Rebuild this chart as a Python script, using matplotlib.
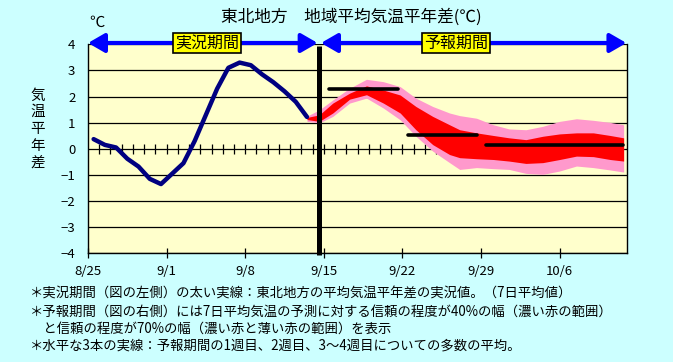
import matplotlib
matplotlib.use("Agg")
import matplotlib.pyplot as plt
from matplotlib.patches import FancyArrowPatch
import numpy as np

plt.rcParams['font.family'] = ['Noto Sans CJK JP', 'DejaVu Sans']

# ---- data ----
x_tick_days = [0, 7, 14, 21, 28, 35, 42]
x_tick_labels = ["8/25", "9/1", "9/8", "9/15", "9/22", "9/29", "10/6"]
y_ticks = [-4, -3, -2, -1, 0, 1, 2, 3, 4]

obs_day = [0.5, 1.5, 2.5, 3.5, 4.5, 5.5, 6.5, 7.5, 8.5, 9.5,
           10.5, 11.5, 12.5, 13.5, 14.5, 15.5, 16.5, 17.5, 18.5, 19.5]
obs_val = [0.37, 0.15, 0.05, -0.38, -0.68, -1.15, -1.35, -0.95, -0.55, 0.30,
           1.30, 2.30, 3.10, 3.30, 3.20, 2.85, 2.55, 2.20, 1.80, 1.22]

fc_day = [19.5, 20.6, 21.8, 23.3, 24.8, 26.3, 27.8, 29.2, 30.7, 32.2, 33.1,
          34.6, 36.1, 37.5, 39.0, 40.5, 42.0, 43.5, 45.0, 46.5, 47.7]
pink_hi = [1.25, 1.49, 1.87, 2.32, 2.66, 2.57, 2.38, 1.94, 1.62, 1.37, 1.27,
           1.17, 0.92, 0.76, 0.73, 0.86, 1.05, 1.15, 1.09, 1.01, 0.92]
red_hi = [1.20, 1.30, 1.75, 2.13, 2.41, 2.25, 2.06, 1.62, 1.24, 0.92, 0.73,
          0.61, 0.51, 0.42, 0.35, 0.48, 0.57, 0.61, 0.61, 0.51, 0.42]
red_lo = [1.12, 1.05, 1.37, 1.90, 2.07, 1.75, 1.37, 0.73, 0.16, -0.22, -0.34,
          -0.38, -0.41, -0.47, -0.56, -0.53, -0.41, -0.28, -0.30, -0.41, -0.47]
pink_lo = [1.05, 0.99, 1.24, 1.75, 1.94, 1.56, 1.11, 0.48, -0.09, -0.53, -0.79,
           -0.72, -0.76, -0.79, -0.94, -0.98, -0.85, -0.66, -0.72, -0.81, -0.89]

week_start = [21.5, 28.5, 35.4]
week_end = [27.6, 34.6, 47.6]
week_mean = [2.29, 0.51, 0.13]

split_day = 20.6
n_days = 48

BG = "#CCFFFF"
PLOT_BG = "#FFFFCC"

fig = plt.figure(figsize=(6.73, 3.62), dpi=100, facecolor=BG)
ax = fig.add_axes([88/673, 1-253.3/362, (627-88)/673, (253.3-44.3)/362])
ax.set_facecolor(PLOT_BG)
ax.set_xlim(0, n_days)
ax.set_ylim(-4, 4)

for y in y_ticks:
    ax.axhline(y, color="black", lw=0.9, zorder=1)

ax.vlines(np.arange(1, n_days), -0.2, 0.2, color="black", lw=0.9, zorder=1.5)

ax.fill_between(fc_day, pink_lo, pink_hi, color="#FF99CC", lw=0, zorder=2)
ax.fill_between(fc_day, red_lo, red_hi, color="#FF0000", lw=0, zorder=2.1)

ax.plot(obs_day, obs_val, color="#000080", lw=3.2, zorder=3,
        solid_capstyle="round", solid_joinstyle="round")

for s, e, m in zip(week_start, week_end, week_mean):
    ax.plot([s, e], [m, m], color="black", lw=2.6, zorder=4, solid_capstyle="round")

ax.plot([split_day, split_day], [-4.05, 3.95], color="black", lw=3.6, zorder=5,
        clip_on=False, solid_capstyle="butt")

# arrows on the top line
for a, b in [(0.0, split_day - 0.15), (split_day + 0.15, n_days - 0.05)]:
    arr = FancyArrowPatch((a, 4.05), (b, 4.05), arrowstyle="<|-|>,head_length=4.5,head_width=2.6",
                          color="#0000FF", lw=3.0, mutation_scale=2.2, clip_on=False,
                          zorder=6, shrinkA=0, shrinkB=0)
    ax.add_patch(arr)

box = dict(boxstyle="square,pad=0.12", fc="#FFFF00", ec="black", lw=1.2)
ax.text(10.6, 4.05, "実況期間", ha="center", va="center", fontsize=11.5,
        bbox=box, zorder=7, clip_on=False)
ax.text(32.8, 4.05, "予報期間", ha="center", va="center", fontsize=11.5,
        bbox=box, zorder=7, clip_on=False)

ax.set_xticks(x_tick_days)
ax.set_xticklabels(x_tick_labels, fontsize=9.5)
ax.set_yticks(y_ticks)
ax.set_yticklabels([f"{v}".replace("-", "\u2212") for v in y_ticks], fontsize=9.5)
ax.tick_params(axis="x", direction="inout", length=7, width=0.9, pad=5)
ax.tick_params(axis="y", length=0, pad=9)
for side in ["left", "right", "bottom"]:
    ax.spines[side].set_color("black")
    ax.spines[side].set_linewidth(1.0)
ax.spines["top"].set_visible(False)

fig.text(351/673, 1-17/362, "東北地方　地域平均気温平年差(℃)", ha="center", va="center", fontsize=12)
fig.text(97/673, 1-22/362, "℃", ha="center", va="center", fontsize=11)
fig.text(38/673, 1-129/362, "気\n温\n平\n年\n差", ha="center", va="center",
         fontsize=10.5, linespacing=1.25)

notes = [
    "＊実況期間（図の左側）の太い実線：東北地方の平均気温平年差の実況値。（7日平均値）",
    "＊予報期間（図の右側）には7日平均気温の予測に対する信頼の程度が40%の幅（濃い赤の範囲）",
    "　と信頼の程度が70%の幅（濃い赤と薄い赤の範囲）を表示",
    "＊水平な3本の実線：予報期間の1週目、2週目、3～4週目についての多数の平均。",
]
note_y = [293.3, 311.7, 329, 345.7]
for t, y in zip(notes, note_y):
    fig.text(30/673, 1-y/362, t, ha="left", va="center", fontsize=9.6)

fig.savefig("out.png", dpi=100, facecolor=BG)
